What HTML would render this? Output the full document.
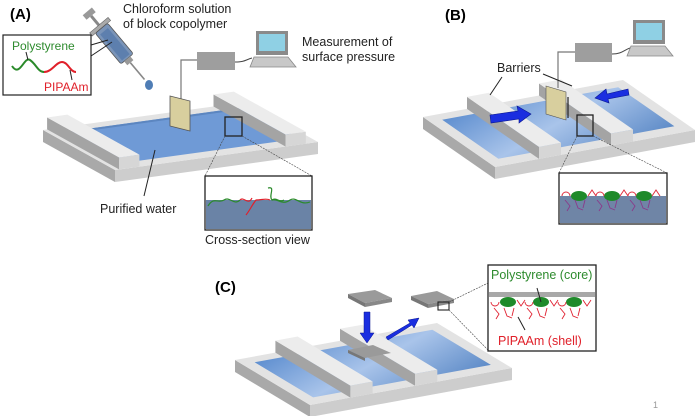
<!DOCTYPE html>
<html><head><meta charset="utf-8"><style>
html,body{margin:0;padding:0;background:#fff}
svg{display:block}
text{font-family:"Liberation Sans",Arial,sans-serif}
</style></head><body>
<svg width="700" height="416" viewBox="0 0 700 416" xmlns="http://www.w3.org/2000/svg">
<defs>
<linearGradient id="wg" x1="0" y1="0" x2="1" y2="1">
<stop offset="0" stop-color="#5f8fd0"/><stop offset="0.5" stop-color="#a9c4ea"/><stop offset="1" stop-color="#5f8cc8"/></linearGradient>
<g id="laptop">
<rect x="6" y="0" width="32" height="24" fill="#8a8a8a"/>
<rect x="9" y="3" width="26" height="17" fill="#8fd0e4"/>
<polygon points="4,26 38,26 46,36 0,36" fill="#c8c8c8" stroke="#888" stroke-width="0.8"/>
</g>
</defs>

<!-- ===== Tray A ===== -->
<polygon points="43,130 115,170 115,182 43,142" fill="#a9a9a9"/>
<polygon points="115,170 318,142 318,154 115,182" fill="#cdcdcd"/>
<g transform="matrix(203,-28,72,40,43,130)">
<rect x="0" y="0" width="1" height="1" fill="#e3e3e3"/>
<rect x="0.09" y="0.1" width="0.86" height="0.78" fill="#6f9ad6"/>
<rect x="0.09" y="0.1" width="0.86" height="0.04" fill="#5c86c0"/>
</g>
<g>
<polygon points="47.1,129.4 119.1,169.4 119.1,157.4 47.1,117.4" fill="#a4a4a4"/>
<polygon points="119.1,169.4 139.4,166.6 139.4,154.6 119.1,157.4" fill="#d6d6d6"/>
<polygon points="213.5,106.5 285.5,146.5 285.5,134.5 213.5,94.5" fill="#a4a4a4"/>
<polygon points="285.5,146.5 305.8,143.7 305.8,131.7 285.5,134.5" fill="#d6d6d6"/>
<g transform="translate(0,-12)" fill="#ececec"><rect x="0.02" width="0.1" height="1" transform="matrix(203,-28,72,40,43,130)"/><rect x="0.84" width="0.1" height="1" transform="matrix(203,-28,72,40,43,130)"/></g>
</g>

<text x="10" y="19" font-size="15" font-weight="bold">(A)</text>
<text x="123" y="13" font-size="12.5" fill="#222">Chloroform solution</text>
<text x="123" y="28" font-size="12.5" fill="#222">of block copolymer</text>
<g transform="translate(113,42) rotate(-40)">
<rect x="-6" y="-40" width="12" height="6" fill="#999"/>
<rect x="-1.5" y="-34" width="3" height="13" fill="#888"/>
<rect x="-12" y="-22" width="24" height="4" fill="#aaa" stroke="#666" stroke-width="0.6"/>
<rect x="-8" y="-18" width="16" height="40" rx="2" fill="#7a94b8" stroke="#555" stroke-width="0.8"/>
<rect x="-5" y="-14" width="10" height="34" fill="#5d7fae"/>
<rect x="-4" y="22" width="8" height="5" fill="#999"/>
<rect x="-0.8" y="27" width="1.6" height="22" fill="#888"/>
</g>
<ellipse cx="149" cy="85" rx="4" ry="5" fill="#4f7db5"/>
<rect x="3" y="35" width="88" height="60" fill="#fff" stroke="#222" stroke-width="1.2"/>
<line x1="91" y1="45" x2="108" y2="40" stroke="#222"/>
<line x1="91" y1="56" x2="112" y2="42" stroke="#222"/>
<text x="12" y="50" font-size="12" fill="#2e8b2e">Polystyrene</text>
<text x="44" y="91" font-size="12" fill="#e0202a">PIPAAm</text>
<path d="M12,66 C20,78 24,56 30,60 C36,64 38,72 44,72" fill="none" stroke="#2a8a2a" stroke-width="2"/>
<path d="M44,72 C52,72 56,62 62,62 C68,62 70,72 76,72" fill="none" stroke="#e0202a" stroke-width="2"/>
<line x1="28" y1="60" x2="26" y2="52" stroke="#222"/>
<line x1="70" y1="70" x2="72" y2="80" stroke="#222"/>
<rect x="197" y="52" width="38" height="18" fill="#9e9e9e"/>
<path d="M197,60 H181 V100" fill="none" stroke="#777" stroke-width="1.2"/>
<path d="M235,62 C245,62 245,60 252,58" fill="none" stroke="#444" stroke-width="1"/>
<g transform="translate(250,31)"><use href="#laptop"/></g>
<text x="302" y="46" font-size="12.5" fill="#222">Measurement of</text>
<text x="302" y="61" font-size="12.5" fill="#222">surface pressure</text>
<polygon points="170,96 190,101 190,131 170,126" fill="#d8cf9e" stroke="#555" stroke-width="0.8"/>
<rect x="225" y="117" width="17" height="19" fill="none" stroke="#222" stroke-width="1.3"/>
<line x1="225" y1="136" x2="205" y2="176" stroke="#444" stroke-width="0.6" stroke-dasharray="2,1"/>
<line x1="242" y1="136" x2="312" y2="176" stroke="#444" stroke-width="0.6" stroke-dasharray="2,1"/>
<rect x="205" y="176" width="107" height="54" fill="#fff" stroke="#222" stroke-width="1.3"/>
<rect x="206" y="200" width="105" height="29" fill="#6a83a6"/>
<path d="M208,206 C214,196 218,204 224,200 C230,196 234,206 240,200" fill="none" stroke="#2a8a2a" stroke-width="1.2"/>
<path d="M240,200 C244,196 248,206 252,198" fill="none" stroke="#e0202a" stroke-width="1.2"/>
<path d="M246,215 C250,210 252,205 256,200 C262,200 266,198 270,200" fill="none" stroke="#e0202a" stroke-width="1.2"/>
<path d="M268,188 C276,186 268,196 272,200 C276,197 280,203 284,200" fill="none" stroke="#2a8a2a" stroke-width="1.2"/>
<path d="M272,200 C278,198 282,206 290,200 C296,196 300,206 310,202" fill="none" stroke="#2a8a2a" stroke-width="1.2"/>
<text x="205" y="244" font-size="12.5" fill="#222">Cross-section view</text>
<line x1="155" y1="150" x2="144" y2="196" stroke="#222" stroke-width="1"/>
<text x="100" y="213" font-size="12.5" fill="#222">Purified water</text>

<!-- ===== Tray B ===== -->
<polygon points="423,117 495,167 495,179 423,129" fill="#a9a9a9"/>
<polygon points="495,167 695,130 695,142 495,179" fill="#cdcdcd"/>
<g transform="matrix(200,-37,72,50,423,117)">
<rect x="0" y="0" width="1" height="1" fill="#e3e3e3"/>
<rect x="0.06" y="0.1" width="0.88" height="0.78" fill="url(#wg)"/>
</g>
<polygon points="467,108.9 539,158.9 539,146.9 467,96.9" fill="#a4a4a4"/>
<polygon points="539,158.9 561,154.8 561,142.8 539,146.9" fill="#d6d6d6"/>
<polygon points="539,95.5 611,145.5 611,133.5 539,83.5" fill="#a4a4a4"/>
<polygon points="611,145.5 633,141.5 633,129.5 611,133.5" fill="#d6d6d6"/>
<g transform="translate(0,-12)" fill="#ececec"><rect x="0.22" width="0.11" height="1" transform="matrix(200,-37,72,50,423,117)"/><rect x="0.58" width="0.11" height="1" transform="matrix(200,-37,72,50,423,117)"/></g>
<text x="445" y="20" font-size="15" font-weight="bold">(B)</text>
<rect x="575" y="43" width="37" height="19" fill="#9e9e9e"/>
<path d="M575,52 H558 V88" fill="none" stroke="#777" stroke-width="1.2"/>
<path d="M612,54 C622,54 624,50 630,48" fill="none" stroke="#444" stroke-width="1"/>
<g transform="translate(627,20)"><use href="#laptop"/></g>
<polygon points="546,86 566,92 566,120 546,114" fill="#d8cf9e" stroke="#555" stroke-width="0.6"/>
<line x1="568" y1="97" x2="568" y2="118" stroke="#222" stroke-width="1.2"/>
<text x="497" y="72" font-size="12.5" fill="#222">Barriers</text>
<line x1="502" y1="77" x2="490" y2="95" stroke="#222"/>
<line x1="543" y1="74" x2="572" y2="86" stroke="#222"/>
<polygon points="490,115 518,111 517,106 531,114 519,123 519,119 491,123" fill="#1a2ee0" stroke="#0a1890" stroke-width="0.6"/>
<polygon points="628,89 607,94 606,89 595,98 609,103 608,99 629,95" fill="#1a2ee0" stroke="#0a1890" stroke-width="0.6"/>
<rect x="577" y="115" width="16" height="21" fill="none" stroke="#222" stroke-width="1.3"/>
<line x1="577" y1="136" x2="559" y2="173" stroke="#444" stroke-width="0.6" stroke-dasharray="2,1"/>
<line x1="593" y1="136" x2="667" y2="173" stroke="#444" stroke-width="0.6" stroke-dasharray="2,1"/>
<rect x="559" y="173" width="108" height="51" fill="#fff" stroke="#222" stroke-width="1.3"/>
<rect x="560" y="196" width="106" height="27" fill="#6f85a6"/>
<g fill="#1f8a2a"><ellipse cx="579" cy="196" rx="8" ry="5"/><ellipse cx="612" cy="196" rx="8" ry="5"/><ellipse cx="644" cy="196" rx="8" ry="5"/></g>
<g fill="none" stroke="#e03040" stroke-width="1"><path d="M562,196 a4,4 0 0 1 8,0 M588,196 l4,-6 l4,6 M596,196 a4,4 0 0 1 8,0 M620,196 l4,-6 l4,6 M628,196 a4,4 0 0 1 8,0 M652,196 l4,-6 l4,6"/></g>
<g fill="none" stroke="#8a3a8a" stroke-width="0.9"><path d="M565,200 l5,6 l-3,5 M575,200 l3,8 l5,2 M585,200 l-2,8 M597,200 l5,6 l-3,5 M607,200 l3,8 l5,2 M617,200 l-2,8 M630,200 l5,6 l-3,5 M640,200 l3,8 l5,2 M650,200 l-2,8"/></g>

<!-- ===== Tray C ===== -->
<polygon points="235,360 310,405 310,417 235,372" fill="#a9a9a9"/>
<polygon points="310,405 512,368 512,380 310,417" fill="#cdcdcd"/>
<g transform="matrix(202,-37,75,45,235,360)">
<rect x="0" y="0" width="1" height="1" fill="#e3e3e3"/>
<rect x="0.06" y="0.1" width="0.88" height="0.78" fill="url(#wg)"/>
</g>
<polygon points="275.4,352.6 350.4,397.6 350.4,385.6 275.4,340.6" fill="#a4a4a4"/>
<polygon points="350.4,397.6 372.6,393.5 372.6,381.5 350.4,385.6" fill="#d6d6d6"/>
<polygon points="340,340.8 415,385.8 415,373.8 340,328.8" fill="#a4a4a4"/>
<polygon points="415,385.8 437.3,381.7 437.3,369.7 415,373.8" fill="#d6d6d6"/>
<g transform="translate(0,-12)" fill="#ececec"><rect x="0.2" width="0.11" height="1" transform="matrix(202,-37,75,45,235,360)"/><rect x="0.52" width="0.11" height="1" transform="matrix(202,-37,75,45,235,360)"/></g>
<text x="215" y="292" font-size="15" font-weight="bold">(C)</text>
<polygon points="348,294 375,290 392,298 365,303" fill="#9a9a9a"/>
<polygon points="348,294 365,303 365,307 348,298" fill="#777"/>
<polygon points="365,303 392,298 392,302 365,307" fill="#888"/>
<polygon points="411,296 437,291 454,299 428,304" fill="#9a9a9a"/>
<polygon points="411,296 428,304 428,308 411,300" fill="#777"/>
<polygon points="428,304 454,299 454,303 428,308" fill="#888"/>
<polygon points="348,350 373,345 391,353 365,358" fill="#9a9a9a"/>
<polygon points="348,350 365,358 365,361 348,353" fill="#777"/>
<polygon points="364,312 370,312 370,333 374,333 367,343 360,333 364,333" fill="#1a2ee0" stroke="#0a1890" stroke-width="0.5"/>
<polygon points="386,337 410,323 408,320 419,318 414,328 412,325 388,340" fill="#1a2ee0" stroke="#0a1890" stroke-width="0.5"/>
<rect x="438" y="302" width="11" height="8" fill="none" stroke="#222" stroke-width="1.1"/>
<line x1="449" y1="302" x2="488" y2="283" stroke="#444" stroke-width="0.6" stroke-dasharray="2,1"/>
<line x1="449" y1="310" x2="488" y2="350" stroke="#444" stroke-width="0.6" stroke-dasharray="2,1"/>
<rect x="488" y="265" width="108" height="86" fill="#fff" stroke="#222" stroke-width="1.3"/>
<text x="491" y="279" font-size="12.5" fill="#2e8b2e">Polystyrene (core)</text>
<rect x="489" y="292" width="106" height="5" fill="#a8a8a8"/>
<g fill="#1f8a2a"><ellipse cx="508" cy="302" rx="8" ry="5"/><ellipse cx="541" cy="302" rx="8" ry="5"/><ellipse cx="574" cy="302" rx="8" ry="5"/></g>
<g fill="none" stroke="#e02030" stroke-width="0.9"><path d="M491,302 a4,4 0 0 0 8,0 M517,300 l4,6 l4,-6 M525,302 a4,4 0 0 0 8,0 M550,300 l4,6 l4,-6 M558,302 a4,4 0 0 0 8,0 M583,300 l4,6 l4,-6 M494,308 l5,6 l-3,5 M504,308 l3,8 l5,2 M514,308 l-2,8 M527,308 l5,6 l-3,5 M537,308 l3,8 l5,2 M547,308 l-2,8 M560,308 l5,6 l-3,5 M570,308 l3,8 l5,2 M580,308 l-2,8"/></g>
<line x1="537" y1="288" x2="541" y2="302" stroke="#222"/>
<line x1="518" y1="317" x2="525" y2="330" stroke="#222"/>
<text x="498" y="345" font-size="12.5" fill="#e0202a">PIPAAm (shell)</text>
<text x="653" y="408" font-size="9" fill="#999">1</text>
</svg>
</body></html>
